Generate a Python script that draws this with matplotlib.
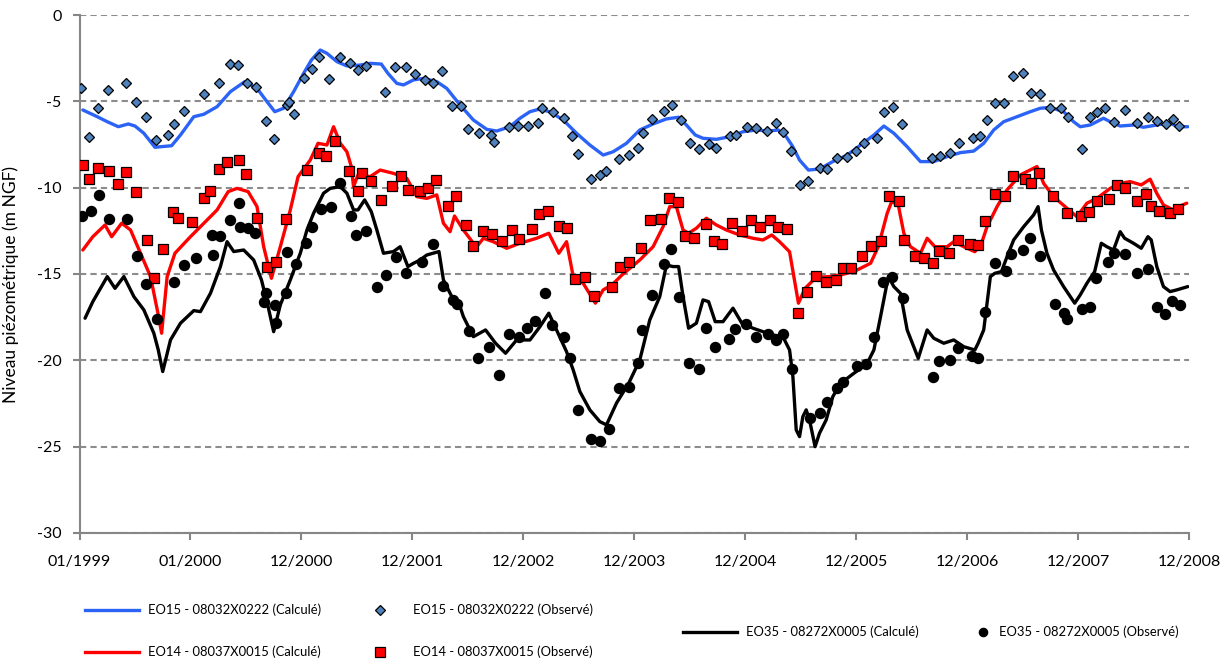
import matplotlib.pyplot as plt
from matplotlib.lines import Line2D

plt.rcParams['font.family'] = ['Lato', 'DejaVu Sans']
plt.rcParams['axes.unicode_minus'] = False

# time axis: years elapsed since 01/1999
tick_labels = ['01/1999', '01/2000', '12/2000', '12/2001', '12/2002', '12/2003',
               '12/2004', '12/2005', '12/2006', '12/2007', '12/2008']

# -------------------------------
# EO15 - 08032X0222
# -------------------------------
eo15_calc_t = [0.03, 0.16, 0.25, 0.35, 0.44, 0.50, 0.58, 0.68, 0.83, 0.91, 1.03, 1.12, 1.24, 1.36,
               1.49, 1.60, 1.69, 1.76, 1.84, 1.93, 2.02, 2.09, 2.17, 2.23, 2.32, 2.41, 2.53, 2.62,
               2.72, 2.78, 2.86, 2.92, 3.01, 3.10, 3.22, 3.31, 3.43, 3.55, 3.67, 3.76, 3.88, 3.97,
               4.06, 4.14, 4.24, 4.36, 4.48, 4.60, 4.72, 4.81, 4.93, 5.05, 5.17, 5.29, 5.40, 5.47,
               5.55, 5.62, 5.74, 5.86, 5.98, 6.10, 6.21, 6.30, 6.37, 6.43, 6.49, 6.57, 6.67, 6.79,
               6.92, 7.04, 7.16, 7.25, 7.34, 7.46, 7.58, 7.70, 7.82, 7.94, 8.06, 8.15, 8.24, 8.33,
               8.45, 8.57, 8.66, 8.75, 8.87, 8.96, 9.02, 9.11, 9.23, 9.29, 9.38, 9.50, 9.59, 9.71,
               9.83, 9.89, 9.99]
eo15_calc = [-5.50, -5.89, -6.18, -6.47, -6.31, -6.43, -6.85, -7.66, -7.57, -6.95, -5.89, -5.75,
             -5.31, -4.44, -3.86, -4.25, -5.02, -5.60, -5.40, -4.44, -3.38, -2.61, -2.03, -2.22,
             -2.70, -2.95, -2.90, -2.80, -2.84, -3.38, -3.96, -4.05, -3.76, -3.67, -3.86, -4.25,
             -5.21, -6.08, -6.62, -6.72, -6.47, -5.98, -5.60, -5.46, -5.60, -6.08, -6.85, -7.53,
             -8.11, -7.92, -7.43, -6.66, -6.31, -6.02, -5.92, -6.37, -6.95, -7.14, -7.20, -7.05,
             -6.76, -6.66, -6.72, -6.66, -7.05, -7.63, -8.40, -8.98, -8.92, -8.49, -8.11, -7.53,
             -6.95, -6.43, -6.85, -7.63, -8.49, -8.49, -8.20, -7.97, -7.88, -7.43, -6.66, -6.18,
             -5.89, -5.60, -5.40, -5.35, -5.60, -6.18, -6.47, -6.37, -5.98, -6.18, -6.43, -6.37,
             -6.50, -6.37, -6.24, -6.47, -6.47]

eo15_obs_t = [0.01, 0.09, 0.17, 0.26, 0.42, 0.51, 0.60, 0.69, 0.80, 0.85, 0.94, 1.12, 1.26, 1.36,
              1.43, 1.51, 1.59, 1.68, 1.75, 1.87, 1.89, 1.93, 2.02, 2.10, 2.16, 2.25, 2.35, 2.44,
              2.51, 2.58, 2.75, 2.84, 2.94, 3.02, 3.11, 3.19, 3.27, 3.36, 3.44, 3.50, 3.60, 3.71,
              3.74, 3.87, 3.95, 4.04, 4.13, 4.17, 4.27, 4.37, 4.44, 4.49, 4.61, 4.69, 4.75, 4.86,
              4.95, 5.03, 5.08, 5.16, 5.27, 5.34, 5.42, 5.50, 5.58, 5.67, 5.74, 5.86, 5.92, 6.02,
              6.10, 6.20, 6.28, 6.34, 6.41, 6.49, 6.57, 6.67, 6.74, 6.83, 6.92, 7.00, 7.07, 7.19,
              7.25, 7.33, 7.41, 7.68, 7.76, 7.85, 7.93, 8.05, 8.12, 8.18, 8.25, 8.33, 8.41, 8.50,
              8.58, 8.66, 8.75, 8.85, 8.91, 9.04, 9.11, 9.17, 9.24, 9.32, 9.42, 9.53, 9.63, 9.71,
              9.79, 9.86, 9.91]
eo15_obs = [-4.25, -7.05, -5.37, -4.34, -3.96, -5.06, -5.89, -7.24, -6.95, -6.33, -5.54, -4.57,
            -3.96, -2.84, -2.90, -3.92, -4.19, -6.12, -7.20, -5.21, -5.02, -5.75, -3.67, -3.13,
            -2.45, -3.73, -2.41, -2.76, -3.18, -2.95, -4.44, -2.99, -3.03, -3.42, -3.76, -3.96,
            -3.26, -5.27, -5.25, -6.58, -6.81, -6.95, -7.35, -6.50, -6.41, -6.41, -6.24, -5.40,
            -5.63, -5.98, -7.01, -8.07, -9.51, -9.26, -9.03, -8.34, -8.11, -7.72, -6.83, -6.02,
            -5.56, -5.21, -6.06, -7.43, -7.76, -7.47, -7.68, -6.99, -6.95, -6.50, -6.52, -6.72,
            -6.27, -6.79, -7.86, -9.84, -9.61, -8.84, -8.92, -8.30, -8.20, -7.86, -7.43, -7.10,
            -5.60, -5.35, -6.29, -8.26, -8.16, -8.01, -7.43, -7.10, -6.99, -6.08, -5.11, -5.11,
            -3.51, -3.38, -4.54, -4.57, -5.40, -5.40, -5.92, -7.78, -5.91, -5.60, -5.40, -6.18,
            -5.50, -6.27, -5.92, -6.12, -6.31, -6.04, -6.43]

# -------------------------------
# EO14 - 08037X0015
# -------------------------------
eo14_calc_t = [0.03, 0.12, 0.23, 0.29, 0.38, 0.46, 0.55, 0.64, 0.71, 0.74, 0.79, 0.86, 1.00, 1.09,
               1.24, 1.34, 1.42, 1.52, 1.60, 1.66, 1.73, 1.81, 1.90, 1.97, 2.08, 2.15, 2.23, 2.29,
               2.35, 2.41, 2.45, 2.47, 2.51, 2.62, 2.71, 2.83, 2.95, 3.04, 3.13, 3.22, 3.28, 3.34,
               3.38, 3.46, 3.54, 3.58, 3.64, 3.73, 3.85, 3.97, 4.12, 4.23, 4.32, 4.39, 4.45, 4.54,
               4.65, 4.72, 4.80, 4.89, 5.05, 5.17, 5.26, 5.32, 5.38, 5.44, 5.49, 5.56, 5.65, 5.74,
               5.83, 5.95, 6.07, 6.16, 6.24, 6.31, 6.40, 6.48, 6.54, 6.64, 6.76, 6.86, 6.98, 7.13,
               7.20, 7.28, 7.32, 7.38, 7.43, 7.49, 7.58, 7.64, 7.71, 7.82, 7.88, 7.97, 8.07, 8.13,
               8.18, 8.27, 8.36, 8.48, 8.63, 8.69, 8.78, 8.90, 8.99, 9.08, 9.17, 9.29, 9.38, 9.47,
               9.57, 9.65, 9.71, 9.77, 9.86, 9.92, 9.98]
eo14_calc = [-13.61, -12.84, -12.16, -12.84, -12.06, -12.45, -13.80, -15.15, -17.37, -18.43,
             -15.15, -13.80, -12.84, -12.26, -11.29, -10.23, -10.04, -10.23, -11.10, -13.42,
             -15.25, -13.42, -11.29, -9.36, -8.40, -7.43, -7.53, -6.47, -7.43, -7.92, -8.78,
             -9.94, -9.26, -9.36, -8.98, -9.17, -9.46, -10.52, -10.62, -10.42, -12.06, -12.55,
             -11.64, -12.45, -13.13, -13.42, -12.93, -13.13, -13.51, -13.22, -12.93, -12.64,
             -13.80, -13.13, -15.15, -15.54, -16.69, -15.92, -15.63, -15.05, -14.19, -13.42,
             -12.26, -11.10, -11.10, -12.45, -12.64, -12.35, -11.77, -12.16, -12.45, -12.74,
             -12.93, -13.03, -12.74, -13.13, -13.71, -16.69, -15.83, -15.19, -15.15, -15.05,
             -14.86, -14.38, -13.42, -11.48, -10.81, -11.00, -12.64, -13.42, -13.80, -12.93,
             -13.42, -13.42, -13.13, -13.42, -13.71, -13.22, -12.26, -11.10, -10.13, -9.26,
             -8.78, -9.75, -10.52, -11.19, -11.68, -10.90, -10.62, -10.04, -9.75, -9.65, -9.84,
             -9.51, -10.33, -11.00, -11.29, -11.06, -10.90]

eo14_obs_t = [0.03, 0.09, 0.17, 0.27, 0.35, 0.42, 0.51, 0.61, 0.67, 0.75, 0.84, 0.89, 1.01, 1.12,
              1.18, 1.26, 1.33, 1.44, 1.50, 1.60, 1.69, 1.77, 1.86, 2.05, 2.16, 2.22, 2.30, 2.43,
              2.51, 2.55, 2.63, 2.72, 2.82, 2.90, 2.96, 3.07, 3.14, 3.21, 3.32, 3.39, 3.48, 3.55,
              3.64, 3.72, 3.81, 3.90, 3.96, 4.08, 4.14, 4.22, 4.32, 4.39, 4.47, 4.56, 4.64, 4.80,
              4.87, 4.95, 5.06, 5.14, 5.24, 5.31, 5.39, 5.46, 5.54, 5.65, 5.72, 5.79, 5.88, 5.97,
              6.05, 6.13, 6.22, 6.30, 6.38, 6.48, 6.56, 6.64, 6.73, 6.82, 6.88, 6.95, 7.05, 7.13,
              7.22, 7.30, 7.39, 7.43, 7.53, 7.61, 7.69, 7.75, 7.84, 7.92, 8.03, 8.10, 8.16, 8.25,
              8.34, 8.41, 8.52, 8.58, 8.65, 8.77, 8.90, 9.03, 9.10, 9.17, 9.28, 9.35, 9.42, 9.53,
              9.61, 9.66, 9.73, 9.83, 9.90]
eo14_obs = [-8.69, -9.51, -8.88, -9.01, -9.79, -9.07, -10.27, -13.03, -15.25, -13.55, -11.39,
            -11.74, -11.97, -10.61, -10.17, -8.94, -8.49, -8.40, -9.21, -11.77, -14.61, -14.28,
            -11.81, -8.98, -8.01, -8.16, -7.30, -9.01, -10.17, -9.17, -9.59, -10.71, -9.88, -9.30,
            -10.13, -10.17, -10.04, -9.55, -11.06, -10.48, -12.16, -13.38, -12.49, -12.70, -13.09,
            -12.45, -12.97, -12.41, -11.54, -11.33, -12.20, -12.35, -15.29, -15.15, -16.27,
            -15.73, -14.61, -14.32, -13.51, -11.87, -11.83, -10.61, -10.81, -12.80, -12.93,
            -12.12, -13.09, -13.28, -12.03, -12.49, -11.87, -12.26, -11.87, -12.26, -12.39,
            -17.24, -16.02, -15.09, -15.44, -15.34, -14.63, -14.63, -13.94, -13.38, -13.07,
            -10.48, -10.75, -13.03, -13.94, -14.05, -14.34, -13.65, -13.80, -13.03, -13.28,
            -13.32, -11.91, -10.38, -10.46, -9.32, -9.51, -9.75, -9.17, -10.46, -11.45, -11.62,
            -11.39, -10.77, -10.65, -9.86, -10.00, -10.79, -10.37, -11.04, -11.33, -11.48, -11.25]

# -------------------------------
# EO35 - 08272X0005
# -------------------------------
eo35_calc_t = [0.05, 0.12, 0.25, 0.32, 0.40, 0.49, 0.58, 0.67, 0.71, 0.75, 0.82, 0.91, 1.03, 1.09,
               1.18, 1.27, 1.33, 1.39, 1.48, 1.57, 1.64, 1.70, 1.75, 1.81, 1.90, 1.99, 2.05, 2.11,
               2.20, 2.26, 2.35, 2.41, 2.47, 2.51, 2.57, 2.63, 2.68, 2.74, 2.83, 2.89, 2.96, 3.01,
               3.07, 3.13, 3.24, 3.28, 3.37, 3.43, 3.46, 3.55, 3.66, 3.75, 3.84, 3.94, 4.06, 4.15,
               4.23, 4.30, 4.39, 4.45, 4.51, 4.60, 4.69, 4.75, 4.84, 4.95, 5.05, 5.14, 5.23, 5.29,
               5.35, 5.40, 5.44, 5.49, 5.56, 5.62, 5.67, 5.73, 5.80, 5.89, 5.97, 6.07, 6.16, 6.25,
               6.34, 6.40, 6.43, 6.46, 6.49, 6.52, 6.55, 6.58, 6.63, 6.67, 6.73, 6.79, 6.86, 6.98,
               7.10, 7.16, 7.22, 7.29, 7.34, 7.40, 7.46, 7.56, 7.64, 7.70, 7.79, 7.88, 7.97, 8.07,
               8.10, 8.15, 8.21, 8.25, 8.31, 8.36, 8.42, 8.51, 8.60, 8.64, 8.67, 8.72, 8.78, 8.87,
               8.97, 9.02, 9.08, 9.15, 9.21, 9.26, 9.32, 9.38, 9.42, 9.50, 9.57, 9.63, 9.66, 9.71,
               9.77, 9.83, 9.89, 9.99]
eo35_calc = [-17.56, -16.60, -15.15, -15.83, -15.15, -16.31, -17.08, -18.43, -19.40, -20.65,
             -18.82, -17.85, -17.12, -17.18, -16.12, -14.57, -13.13, -13.70, -13.61, -14.19,
             -15.34, -16.89, -18.34, -16.79, -15.34, -13.80, -12.45, -11.48, -10.32, -10.04,
             -9.94, -10.32, -11.29, -11.29, -10.71, -11.39, -12.45, -13.80, -13.70, -13.42,
             -14.57, -14.38, -14.19, -13.90, -13.70, -15.34, -16.50, -16.89, -17.47, -18.63,
             -18.24, -19.01, -19.59, -18.82, -18.82, -18.05, -17.27, -18.24, -19.50, -20.56,
             -21.81, -22.87, -23.55, -23.74, -22.48, -21.33, -19.98, -17.66, -16.31, -14.48,
             -14.57, -14.57, -16.31, -18.14, -17.85, -16.50, -16.60, -17.76, -17.76, -16.98,
             -17.85, -18.14, -18.34, -18.53, -18.63, -19.40, -20.94, -24.03, -24.42, -23.26,
             -22.87, -23.45, -25.00, -24.22, -23.45, -22.10, -21.33, -20.75, -20.17, -19.40,
             -17.47, -15.15, -15.73, -16.12, -18.24, -19.88, -18.24, -18.72, -19.01, -18.82,
             -19.21, -19.40, -19.01, -18.24, -15.15, -14.96, -14.86, -14.00, -13.03, -12.26,
             -11.58, -11.10, -12.45, -13.80, -14.77, -15.73, -16.69, -16.21, -15.54, -14.86,
             -13.22, -13.42, -13.61, -12.55, -12.93, -13.22, -13.51, -12.84, -13.03, -14.57,
             -15.73, -16.02, -15.92, -15.73]

eo35_obs_t = [0.02, 0.10, 0.18, 0.27, 0.43, 0.52, 0.60, 0.70, 0.85, 0.94, 1.05, 1.19, 1.20, 1.27,
              1.36, 1.44, 1.45, 1.52, 1.58, 1.66, 1.68, 1.76, 1.77, 1.86, 1.87, 1.95, 2.04, 2.10,
              2.18, 2.27, 2.35, 2.45, 2.49, 2.58, 2.68, 2.76, 2.85, 2.94, 3.09, 3.19, 3.28, 3.37,
              3.40, 3.51, 3.59, 3.69, 3.78, 3.87, 3.96, 4.03, 4.11, 4.20, 4.26, 4.37, 4.42, 4.49,
              4.61, 4.69, 4.77, 4.86, 4.95, 5.03, 5.07, 5.16, 5.27, 5.33, 5.40, 5.49, 5.58, 5.65,
              5.73, 5.85, 5.91, 6.01, 6.10, 6.21, 6.28, 6.34, 6.42, 6.58, 6.67, 6.74, 6.83, 6.88,
              7.01, 7.09, 7.16, 7.24, 7.32, 7.42, 7.69, 7.75, 7.85, 7.92, 8.04, 8.10, 8.16, 8.25,
              8.35, 8.40, 8.50, 8.57, 8.66, 8.79, 8.87, 8.90, 9.04, 9.11, 9.16, 9.27, 9.32, 9.42,
              9.53, 9.63, 9.71, 9.78, 9.85, 9.92]
eo35_obs = [-11.62, -11.35, -10.42, -11.81, -11.81, -13.95, -15.58, -17.62, -15.48, -14.46,
            -14.07, -12.74, -13.92, -12.78, -11.87, -10.90, -12.26, -12.35, -12.64, -16.60,
            -16.12, -16.79, -17.85, -16.12, -13.70, -14.42, -13.18, -12.26, -11.25, -11.14,
            -9.75, -11.62, -12.74, -12.49, -15.73, -15.07, -14.03, -14.96, -14.32, -13.26,
            -15.67, -16.50, -16.73, -18.30, -19.84, -19.21, -20.85, -18.49, -18.63, -18.14,
            -17.72, -16.12, -17.95, -18.63, -19.88, -22.87, -24.57, -24.65, -23.99, -21.62,
            -21.52, -20.13, -18.24, -16.21, -14.42, -13.55, -16.35, -20.17, -20.50, -18.14,
            -19.21, -18.76, -18.20, -17.89, -18.63, -18.49, -18.82, -18.49, -20.50, -23.35,
            -23.03, -22.43, -21.62, -21.27, -20.32, -20.21, -18.66, -15.48, -15.15, -16.39,
            -20.98, -20.03, -19.98, -19.26, -19.73, -19.84, -17.18, -14.38, -14.80, -13.86,
            -13.61, -12.89, -13.95, -16.73, -17.24, -17.60, -17.04, -16.89, -15.25, -14.32,
            -13.80, -13.84, -14.92, -14.71, -16.89, -17.33, -16.54, -16.79]

# -------------------------------
# Plot
# -------------------------------
fig = plt.figure(figsize=(12.27, 6.64), dpi=100)
ax = fig.add_axes([0.0648, 0.1973, 0.9042, 0.7801])

line_kw = dict(lw=2.4, solid_joinstyle='round', solid_capstyle='round', zorder=3)
ax.plot(eo35_calc_t, eo35_calc, color='black', **line_kw)
ax.plot(eo14_calc_t, eo14_calc, color='#ff0000', **line_kw)
ax.plot(eo15_calc_t, eo15_calc, color='#2a63f6', **line_kw)

ax.plot(eo15_obs_t, eo15_obs, ls='none', marker='D', ms=5.2, mfc='#4f81bd', mec='black', mew=0.9, zorder=4)
ax.plot(eo14_obs_t, eo14_obs, ls='none', marker='s', ms=6.7, mfc='#ff0000', mec='black', mew=0.9, zorder=4)
ax.plot(eo35_obs_t, eo35_obs, ls='none', marker='o', ms=7.2, mfc='black', mec='black', zorder=4)

ax.set_xlim(0, 10)
ax.set_ylim(-30, 0)
ax.set_xticks(range(11))
ax.set_xticklabels(tick_labels)
ax.set_yticks(range(-30, 1, 5))
ax.yaxis.grid(True, color='#8c8c8c', lw=1.5, ls=(0, (3, 2)))
ax.set_axisbelow(True)

for side in ['top', 'right']:
    ax.spines[side].set_visible(False)
for side in ['left', 'bottom']:
    ax.spines[side].set_color('#868686')
    ax.spines[side].set_linewidth(1.5)
ax.tick_params(axis='both', direction='out', length=5, width=1.5, color='#868686', labelsize=11.5)
ax.tick_params(axis='x', pad=11)
ax.tick_params(axis='y', pad=8)

ax.set_ylabel('Niveau piézométrique (m NGF)', fontsize=12.5)
ax.yaxis.set_label_coords(-0.0545, 0.48)

# -------------------------------
# Legend (placed by hand like the original)
# -------------------------------
W, H = 1227.0, 664.0


def fx(px):
    return px / W


def fy(py):
    return 1 - py / H


entries = [
    ('line', '#2a63f6', 85, 139, 148, 610, 'EO15 - 08032X0222 (Calculé)'),
    ('D', '#4f81bd', 380, None, 413, 610, 'EO15 - 08032X0222 (Observé)'),
    ('line', '#ff0000', 85, 139, 148, 652, 'EO14 - 08037X0015 (Calculé)'),
    ('s', '#ff0000', 380, None, 413, 652, 'EO14 - 08037X0015 (Observé)'),
    ('line', 'black', 683, 737, 746, 632, 'EO35 - 08272X0005 (Calculé)'),
    ('o', 'black', 983, None, 999, 632, 'EO35 - 08272X0005 (Observé)'),
]
for kind, col, x0, x1, xt, y, label in entries:
    if kind == 'line':
        fig.add_artist(Line2D([fx(x0), fx(x1)], [fy(y), fy(y)], transform=fig.transFigure,
                              color=col, lw=2.4))
    else:
        ms = {'D': 5, 's': 6.5, 'o': 6}[kind]
        fig.add_artist(Line2D([fx(x0)], [fy(y)], transform=fig.transFigure, ls='none',
                              marker=kind, ms=ms, mfc=col, mec='black', mew=0.9))
    fig.text(fx(xt), fy(y), label, fontsize=9.4, va='center', ha='left')

plt.savefig('out.png', dpi=100)
